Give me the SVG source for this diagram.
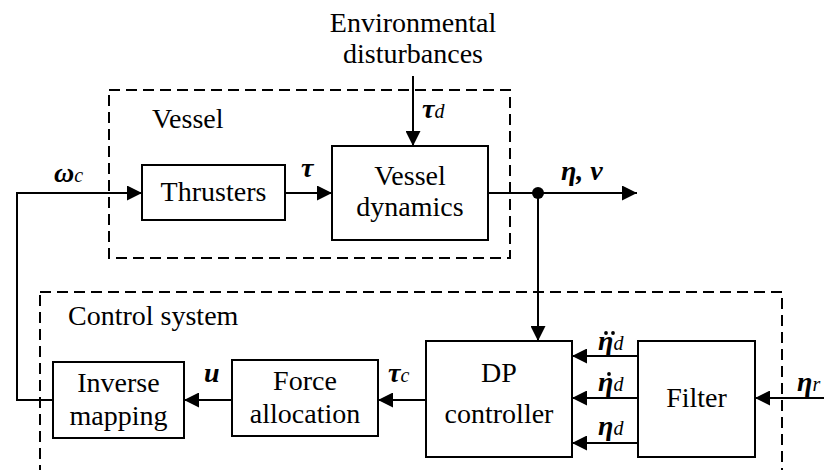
<svg xmlns="http://www.w3.org/2000/svg" width="824" height="470" viewBox="0 0 824 470">
<defs>
<marker id="ah" markerWidth="15" markerHeight="15" refX="15" refY="7.5" orient="auto" markerUnits="userSpaceOnUse">
<path d="M0,0 L15,7.5 L0,15 Z" fill="#000"/>
</marker>
</defs>
<rect width="824" height="470" fill="#fff"/>
<g id="groups">
<g fill="none" stroke="#000" stroke-width="2" stroke-dasharray="11 6">
<rect x="109" y="90" width="401" height="168"/>
<rect x="40" y="292" width="742" height="200"/>
</g>
<text x="152" y="128" font-family="Liberation Serif" font-size="28">Vessel</text>
<text x="68" y="325" font-family="Liberation Serif" font-size="28">Control system</text>
</g>
<g id="connectors" fill="none" stroke="#000" stroke-width="2">
<path d="M413,76 V146" marker-end="url(#ah)"/>
<path d="M53,400 H17 V193 H142" marker-end="url(#ah)"/>
<path d="M285,193 H332" marker-end="url(#ah)"/>
<path d="M488,193 H637" marker-end="url(#ah)"/>
<circle cx="538" cy="193" r="6" fill="#000" stroke="none"/>
<path d="M538,193 V341" marker-end="url(#ah)"/>
<path d="M232,400 H184" marker-end="url(#ah)"/>
<path d="M426,400 H378" marker-end="url(#ah)"/>
<path d="M638,356 H572" marker-end="url(#ah)"/>
<path d="M638,398 H572" marker-end="url(#ah)"/>
<path d="M638,443 H572" marker-end="url(#ah)"/>
<path d="M824,398 H755" marker-end="url(#ah)"/>
</g>
<g id="labels">
<text x="413" y="32" text-anchor="middle" font-family="Liberation Serif" font-size="28">Environmental</text>
<text x="413" y="63" text-anchor="middle" font-family="Liberation Serif" font-size="28">disturbances</text>
<text x="422" y="118" font-family="Liberation Serif" font-size="28" font-weight="bold" font-style="italic">τ<tspan font-size="20" font-weight="normal">d</tspan></text>
<text x="54" y="182" font-family="Liberation Serif" font-size="28" font-weight="bold" font-style="italic">ω<tspan font-size="20" font-weight="normal">c</tspan></text>
<text x="301" y="177" font-family="Liberation Serif" font-size="28" font-weight="bold" font-style="italic">τ</text>
<text x="561" y="180" font-family="Liberation Serif" font-size="28" font-weight="bold" font-style="italic">η, ν</text>
<text x="204" y="382" font-family="Liberation Serif" font-size="28" font-weight="bold" font-style="italic">u</text>
<text x="388" y="382" font-family="Liberation Serif" font-size="28" font-weight="bold" font-style="italic">τ<tspan font-size="20" font-weight="normal">c</tspan></text>
<text x="598" y="350" font-family="Liberation Serif" font-size="28" font-weight="bold" font-style="italic">η<tspan font-size="20" font-weight="normal">d</tspan></text>
<text x="598" y="391" font-family="Liberation Serif" font-size="28" font-weight="bold" font-style="italic">η<tspan font-size="20" font-weight="normal">d</tspan></text>
<text x="598" y="435" font-family="Liberation Serif" font-size="28" font-weight="bold" font-style="italic">η<tspan font-size="20" font-weight="normal">d</tspan></text>
<text x="797" y="391" font-family="Liberation Serif" font-size="28" font-weight="bold" font-style="italic">η<tspan font-size="20" font-weight="normal">r</tspan></text>
<circle cx="606" cy="333" r="1.9" fill="#000"/>
<circle cx="613" cy="333" r="1.9" fill="#000"/>
<circle cx="609" cy="374" r="1.9" fill="#000"/>
</g>
<g id="thrusters">
<rect x="142" y="165" width="143" height="55" fill="#fff" stroke="#000" stroke-width="2"/>
<text x="213.5" y="201" text-anchor="middle" font-family="Liberation Serif" font-size="28">Thrusters</text>
</g>
<g id="vessel-dynamics">
<rect x="332" y="146" width="156" height="94" fill="#fff" stroke="#000" stroke-width="2"/>
<text x="410" y="185" text-anchor="middle" font-family="Liberation Serif" font-size="28">Vessel</text>
<text x="410" y="216" text-anchor="middle" font-family="Liberation Serif" font-size="28">dynamics</text>
</g>
<g id="inverse-mapping">
<rect x="53" y="362" width="131" height="76" fill="#fff" stroke="#000" stroke-width="2"/>
<text x="118.5" y="392" text-anchor="middle" font-family="Liberation Serif" font-size="28">Inverse</text>
<text x="118.5" y="425" text-anchor="middle" font-family="Liberation Serif" font-size="28">mapping</text>
</g>
<g id="force-allocation">
<rect x="232" y="360" width="146" height="76" fill="#fff" stroke="#000" stroke-width="2"/>
<text x="305" y="390" text-anchor="middle" font-family="Liberation Serif" font-size="28">Force</text>
<text x="305" y="423" text-anchor="middle" font-family="Liberation Serif" font-size="28">allocation</text>
</g>
<g id="dp-controller">
<rect x="426" y="341" width="146" height="116" fill="#fff" stroke="#000" stroke-width="2"/>
<text x="499" y="382" text-anchor="middle" font-family="Liberation Serif" font-size="28">DP</text>
<text x="499" y="423" text-anchor="middle" font-family="Liberation Serif" font-size="28">controller</text>
</g>
<g id="filter">
<rect x="638" y="341" width="117" height="116" fill="#fff" stroke="#000" stroke-width="2"/>
<text x="696.5" y="407" text-anchor="middle" font-family="Liberation Serif" font-size="28">Filter</text>
</g>
</svg>
